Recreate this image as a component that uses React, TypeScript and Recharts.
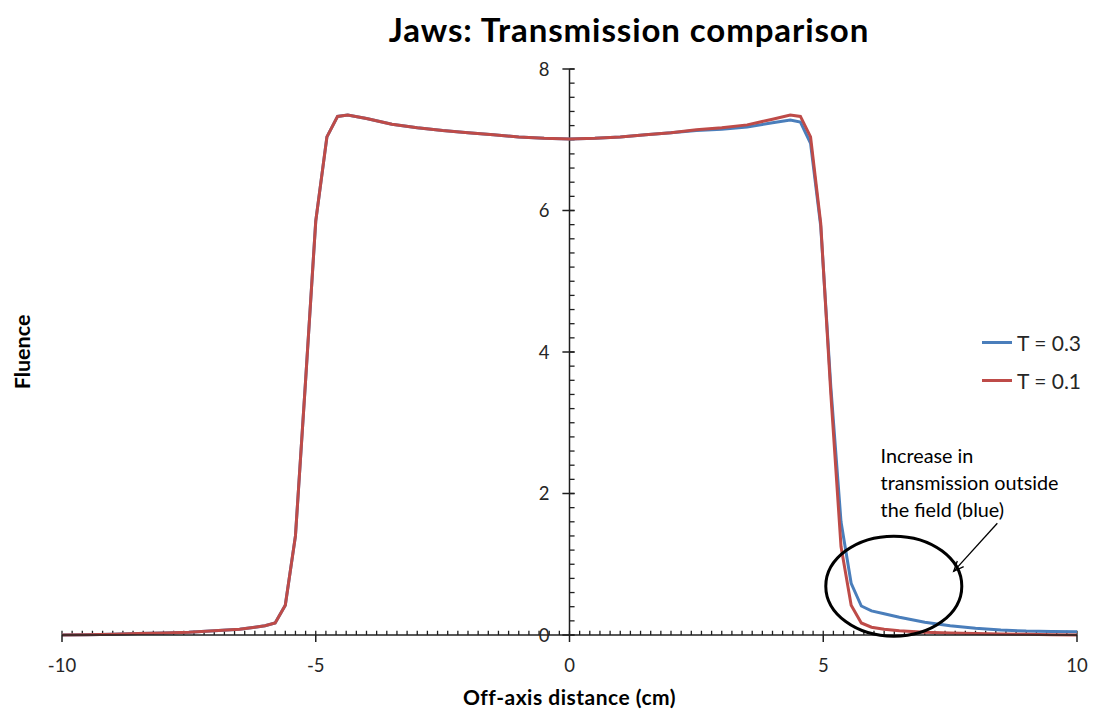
import { LineChart, Line, XAxis, YAxis, ReferenceLine, ReferenceDot, Legend } from "recharts";

// off-axis distance (cm)
const distance = [
  -10, -9.5, -9, -8.5, -8, -7.5, -7, -6.5, -6.2, -6.0,
  -5.8, -5.6, -5.4, -5.2, -5.0, -4.78, -4.57, -4.37, -4.0, -3.5,
  -3.0, -2.5, -2.0, -1.5, -1.0, -0.5, 0, 0.5, 1.0, 1.5,
  2.0, 2.5, 3.0, 3.5, 4.0, 4.35, 4.55, 4.75, 4.95, 5.15,
  5.35, 5.55, 5.75, 5.95, 6.2, 6.5, 7.0, 7.5, 8.0, 8.5,
  9.0, 9.5, 10,
];

const fluenceT03 = [
  0, 0.005, 0.01, 0.02, 0.03, 0.04, 0.06, 0.08, 0.11, 0.13,
  0.17, 0.42, 1.4, 3.6, 5.85, 7.04, 7.33, 7.35, 7.3, 7.22,
  7.17, 7.13, 7.1, 7.07, 7.04, 7.02, 7.01, 7.02, 7.04, 7.07,
  7.1, 7.13, 7.15, 7.18, 7.24, 7.28, 7.25, 6.95, 5.78, 3.5,
  1.6, 0.73, 0.41, 0.34, 0.3, 0.25, 0.18, 0.13, 0.095, 0.07,
  0.055, 0.05, 0.045,
];

const fluenceT01 = [
  0, 0.005, 0.01, 0.02, 0.03, 0.04, 0.06, 0.08, 0.11, 0.13,
  0.17, 0.42, 1.4, 3.6, 5.85, 7.04, 7.33, 7.35, 7.3, 7.22,
  7.17, 7.13, 7.1, 7.07, 7.04, 7.02, 7.01, 7.02, 7.04, 7.07,
  7.1, 7.14, 7.17, 7.21, 7.29, 7.35, 7.33, 7.04, 5.82, 3.4,
  1.25, 0.42, 0.17, 0.11, 0.08, 0.06, 0.04, 0.03, 0.02, 0.015,
  0.01, 0.005, 0,
];

const xTicks = [-10, -5, 0, 5, 10];
const yTicks = [0, 2, 4, 6, 8];
const seriesNames = ["T = 0.3", "T = 0.1"];
const seriesColors = ["#4a7ebb", "#be4b48"];
const noteLines = ["Increase in", "transmission outside", "the field (blue)"];

const data = distance.map((x, i) => ({ x, t03: fluenceT03[i], t01: fluenceT01[i] }));

const minorX = Array.from({ length: 101 }, (_, i) => Math.round((-10 + i * 0.2) * 10) / 10);
const minorY = Array.from({ length: 41 }, (_, i) => Math.round(i * 2) / 10);

const FONT = "Lato, 'Open Sans', sans-serif";
const AXIS = "#1f1f1f";
const TEXT = "#262626";

function Arrow(props: any) {
  const { x1, y1, x2, y2 } = props;
  const a = Math.atan2(y2 - y1, x2 - x1);
  const len = 11;
  const spread = 0.4;
  const p1 = [x2 - len * Math.cos(a - spread), y2 - len * Math.sin(a - spread)];
  const p2 = [x2 - len * Math.cos(a + spread), y2 - len * Math.sin(a + spread)];
  return (
    <g stroke="#000" strokeWidth={1.3} fill="none">
      <line x1={x1} y1={y1} x2={x2} y2={y2} />
      <polyline points={`${p1[0]},${p1[1]} ${x2},${y2} ${p2[0]},${p2[1]}`} />
    </g>
  );
}

function LegendBox() {
  return (
    <div style={{ fontFamily: FONT, fontSize: 21, color: TEXT }}>
      {seriesNames.map((name, i) => (
        <div key={name} style={{ display: "flex", alignItems: "center", height: 38 }}>
          <div style={{ width: 30, height: 3, background: seriesColors[i], marginRight: 5 }} />
          <span>{name}</span>
        </div>
      ))}
    </div>
  );
}

export default function App() {
  return (
    <div style={{ position: "absolute", left: 0, top: 0, width: 1094, height: 711, background: "#fff" }}>
      <div
        style={{
          position: "absolute",
          left: 0,
          top: 9,
          width: 1258,
          textAlign: "center",
          fontFamily: FONT,
          fontWeight: 700,
          fontSize: 33,
          letterSpacing: 0.9,
          color: "#000",
          lineHeight: "40px",
        }}
      >
        Jaws: Transmission comparison
      </div>
      <LineChart width={1094} height={711} data={data} margin={{ top: 69, right: 17, bottom: 0, left: 0 }}>
        <XAxis
          type="number"
          dataKey="x"
          domain={[-10, 10]}
          ticks={xTicks}
          height={76}
          axisLine={{ stroke: AXIS, strokeWidth: 1.5 }}
          tickLine={{ stroke: AXIS, strokeWidth: 1.5 }}
          tickSize={7}
          tickMargin={17}
          tick={{ fontSize: 18.5, fill: TEXT, fontFamily: FONT }}
          label={{
            value: "Off-axis distance (cm)",
            position: "insideBottom",
            offset: 6,
            fontSize: 21,
            fontWeight: 700,
            letterSpacing: 0.5,
            fill: "#000",
            fontFamily: FONT,
          }}
        />
        <YAxis
          type="number"
          domain={[0, 8]}
          ticks={yTicks}
          width={62}
          tick={false}
          axisLine={false}
          tickLine={false}
          label={({ viewBox }: any) => (
            <text
              x={viewBox.x + 22}
              y={viewBox.y + viewBox.height / 2}
              transform={`rotate(-90 ${viewBox.x + 22} ${viewBox.y + viewBox.height / 2})`}
              textAnchor="middle"
              dominantBaseline="central"
              fontFamily={FONT}
              fontSize={21.5}
              fontWeight={700}
              fill="#000"
            >
              Fluence
            </text>
          )}
        />
        <Legend
          layout="horizontal"
          verticalAlign="middle"
          wrapperStyle={{ left: 982, top: 323, width: 110 }}
          content={() => <LegendBox />}
        />

        {/* vertical axis through x = 0 */}
        <ReferenceLine x={0} stroke={AXIS} strokeWidth={1.5} ifOverflow="visible" />
        {minorX.map((v) => (
          <ReferenceLine
            key={`mx${v}`}
            segment={[{ x: v, y: 0 }, { x: v, y: 0.06 }]}
            stroke={AXIS}
            strokeWidth={1.3}
            ifOverflow="visible"
          />
        ))}
        {minorY.map((v) => (
          <ReferenceLine
            key={`my${v}`}
            segment={[{ x: 0, y: v }, { x: 0.1, y: v }]}
            stroke={AXIS}
            strokeWidth={1.3}
            ifOverflow="visible"
          />
        ))}
        {yTicks.map((v) => (
          <ReferenceLine
            key={`yt${v}`}
            segment={[{ x: -0.14, y: v }, { x: 0.1, y: v }]}
            stroke={AXIS}
            strokeWidth={1.5}
            ifOverflow="visible"
            label={{ value: String(v), position: "left", offset: 13, fontSize: 18.5, fill: TEXT, fontFamily: FONT }}
          />
        ))}

        <Line
          type="linear"
          dataKey="t03"
          name={seriesNames[0]}
          stroke={seriesColors[0]}
          strokeWidth={3}
          dot={false}
          isAnimationActive={false}
        />
        <Line
          type="linear"
          dataKey="t01"
          name={seriesNames[1]}
          stroke={seriesColors[1]}
          strokeWidth={3}
          dot={false}
          isAnimationActive={false}
        />

        {/* annotation */}
        <ReferenceDot
          x={6.39}
          y={0.69}
          ifOverflow="visible"
          shape={(p: any) => <ellipse cx={p.cx} cy={p.cy} rx={68} ry={50} fill="none" stroke="#000" strokeWidth={3} />}
        />
        <ReferenceLine segment={[{ x: 8.43, y: 1.58 }, { x: 7.57, y: 0.9 }]} ifOverflow="visible" shape={Arrow} />
        <ReferenceDot
          x={6.13}
          y={2.54}
          ifOverflow="visible"
          shape={(p: any) => (
            <g fontFamily={FONT} fontSize={19.8} fill="#000">
              {noteLines.map((t, i) => (
                <text key={t} x={p.cx} y={p.cy + i * 26.7} dominantBaseline="central">
                  {t}
                </text>
              ))}
            </g>
          )}
        />
      </LineChart>
    </div>
  );
}
